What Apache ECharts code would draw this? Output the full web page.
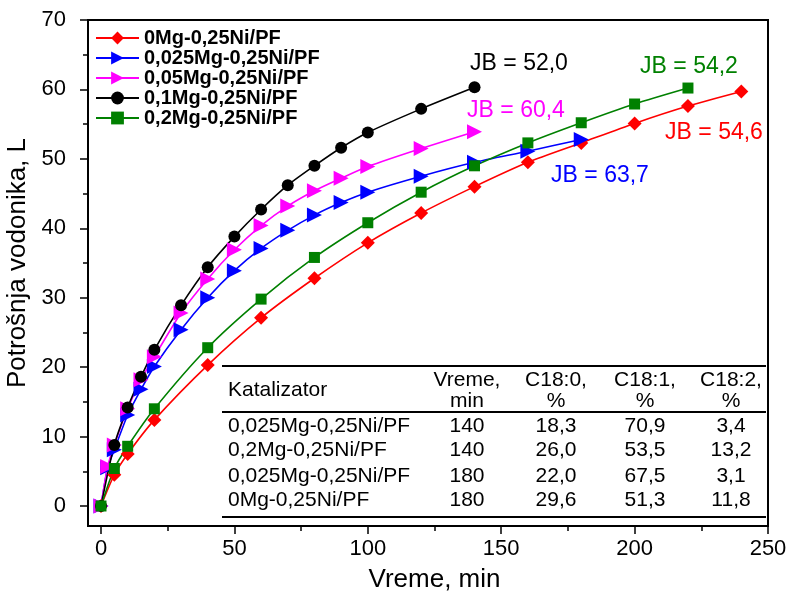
<!DOCTYPE html>
<html><head><meta charset="utf-8">
<script src="https://cdn.jsdelivr.net/npm/echarts@6/dist/echarts.min.js"></script>
<style>html,body{margin:0;padding:0;background:#fff}#c{width:788px;height:597px}</style>
</head><body><div id="c"></div>
<script>
// ---- data ----
const seriesNames = ['0Mg-0,25Ni/PF','0,025Mg-0,25Ni/PF','0,05Mg-0,25Ni/PF','0,1Mg-0,25Ni/PF','0,2Mg-0,25Ni/PF'];
const tRed   = [0,5,10,20,40,60,80,100,120,140,160,180,200,220,240];
const vRed   = [0,4.5,7.5,12.4,20.3,27.1,32.8,37.9,42.2,46.0,49.5,52.3,55.1,57.6,59.7];
const tBlue  = [0,2.5,5,10,15,20,30,40,50,60,70,80,90,100,120,140,160,180];
const vBlue  = [0,5.5,8.1,13.1,16.8,20.1,25.4,30.0,33.9,37.1,39.7,41.9,43.7,45.2,47.5,49.5,51.1,52.8];
const tMag   = [0,2.5,5,10,15,20,30,40,50,60,70,80,90,100,120,140];
const vMag   = [0,5.7,8.8,14.0,18.2,21.5,27.8,32.7,36.9,40.4,43.2,45.4,47.2,48.9,51.5,53.9];
const tBlack = [0,5,10,15,20,30,40,50,60,70,80,90,100,120,140];
const vBlack = [0,8.8,14.2,18.6,22.5,28.9,34.4,38.8,42.7,46.2,49.0,51.6,53.8,57.2,60.3];
const tGreen = [0,5,10,20,40,60,80,100,120,140,160,180,200,220];
const vGreen = [0,5.4,8.6,14.0,22.8,29.8,35.8,40.8,45.2,49.0,52.3,55.2,57.9,60.2];
const jbLabels = ['JB = 52,0','JB = 60,4','JB = 63,7','JB = 54,2','JB = 54,6'];
const tableHeader = [['Katalizator'],['Vreme,','min'],['C18:0,','%'],['C18:1,','%'],['C18:2,','%']];
const tableRows = [
  ['0,025Mg-0,25Ni/PF','140','18,3','70,9','3,4'],
  ['0,2Mg-0,25Ni/PF','140','26,0','53,5','13,2'],
  ['0,025Mg-0,25Ni/PF','180','22,0','67,5','3,1'],
  ['0Mg-0,25Ni/PF','180','29,6','51,3','11,8']
];
const xTicks = [0,250,50];
const yTicks = [0,70,10];

// ---- chart ----
const FONT = 'Liberation Sans, Arial, sans-serif';
const zip = (t,v) => t.map((x,i)=>[x,v[i]]);
const styles = [
  {color:'#ff0000', symbol:'diamond', size:14, rot:0},
  {color:'#0000ff', symbol:'triangle', size:15, rot:-90},
  {color:'#ff00ff', symbol:'triangle', size:15, rot:-90},
  {color:'#000000', symbol:'circle', size:12, rot:0},
  {color:'#008000', symbol:'rect', size:11, rot:0}
];
const dataSets = [zip(tRed,vRed), zip(tBlue,vBlue), zip(tMag,vMag), zip(tBlack,vBlack), zip(tGreen,vGreen)];

const series = dataSets.map((d,i)=>({
  name: seriesNames[i], type:'line', data:d, smooth:0.25,
  symbol: styles[i].symbol, symbolSize: styles[i].size, symbolRotate: styles[i].rot,
  showAllSymbol:true, clip:false,
  lineStyle:{color:styles[i].color, width:1.6},
  itemStyle:{color:styles[i].color},
  emphasis:{disabled:true}
}));

const graphics = [];
graphics.push({type:'rect', shape:{x:88,y:20,width:680,height:506}, style:{fill:null, stroke:'#000', lineWidth:2}, z:100});
// JB annotations
const jbPos = [[519,64],[516,111],[600,176],[689,67],[714,133]];
const jbColors = ['#000000','#ff00ff','#0000ff','#008000','#ff0000'];
jbLabels.forEach((s,i)=>graphics.push({type:'text', x:jbPos[i][0], y:jbPos[i][1], style:{text:s, fill:jbColors[i], font:'23px '+FONT, textAlign:'center', textVerticalAlign:'middle'}, z:100}));
// table
const tblL = 222, tblR = 766;
[366,412,517].forEach(y=>graphics.push({type:'line', shape:{x1:tblL,y1:y,x2:tblR,y2:y}, style:{stroke:'#000', lineWidth:2}, z:100}));
const colX = [228,467,556,645,731];
const TF = '21px '+FONT;
tableHeader.forEach((h,c)=>{
  if (c===0) {
    graphics.push({type:'text', x:colX[0], y:390, style:{text:h[0], fill:'#000', font:TF, textAlign:'left', textVerticalAlign:'middle'}, z:100});
  } else {
    h.forEach((s,k)=>graphics.push({type:'text', x:colX[c], y:380+k*21, style:{text:s, fill:'#000', font:TF, textAlign:'center', textVerticalAlign:'middle'}, z:100}));
  }
});
const rowY = [426,450,476,500];
tableRows.forEach((r,ri)=>r.forEach((s,c)=>graphics.push({type:'text', x:colX[c], y:rowY[ri], style:{text:s, fill:'#000', font:TF, textAlign: c===0?'left':'center', textVerticalAlign:'middle'}, z:100})));

const chart = echarts.init(document.getElementById('c'), null, {renderer:'canvas'});
chart.setOption({
  animation:false,
  backgroundColor:'#fff',
  grid:{left:101, right:20, top:20, bottom:91, containLabel:false, outerBoundsMode:'none'},
  legend:{
    orient:'vertical', left:95, top:28, padding:0, itemWidth:43, itemHeight:16, itemGap:0,
    textStyle:{fontFamily:FONT, fontWeight:'bold', fontSize:20, color:'#000'},
    data: seriesNames
  },
  xAxis:{
    type:'value', min:xTicks[0], max:xTicks[1], interval:xTicks[2], offset:20,
    name:'Vreme, min', nameLocation:'middle', nameGap:41,
    nameTextStyle:{fontFamily:FONT, fontSize:26, color:'#000'},
    axisLine:{show:true, onZero:false, lineStyle:{color:'#000', width:2}},
    axisTick:{show:true, inside:false, length:8, lineStyle:{color:'#000', width:1.5}},
    minorTick:{show:true, splitNumber:2, length:5, lineStyle:{color:'#000', width:1.5}},
    axisLabel:{fontFamily:FONT, fontSize:22, color:'#000', margin:12},
    splitLine:{show:false}
  },
  yAxis:{
    type:'value', min:yTicks[0], max:yTicks[1], interval:yTicks[2], offset:13,
    name:'Potrošnja vodonika, L', nameLocation:'middle', nameGap:52,
    nameTextStyle:{fontFamily:FONT, fontSize:26, color:'#000'},
    axisLine:{show:true, onZero:false, lineStyle:{color:'#000', width:2}},
    axisTick:{show:true, inside:false, length:8, lineStyle:{color:'#000', width:1.5}},
    minorTick:{show:true, splitNumber:2, length:5, lineStyle:{color:'#000', width:1.5}},
    axisLabel:{fontFamily:FONT, fontSize:22, color:'#000', margin:22},
    splitLine:{show:false}
  },
  series: series,
  graphic: graphics
});
</script></body></html>
